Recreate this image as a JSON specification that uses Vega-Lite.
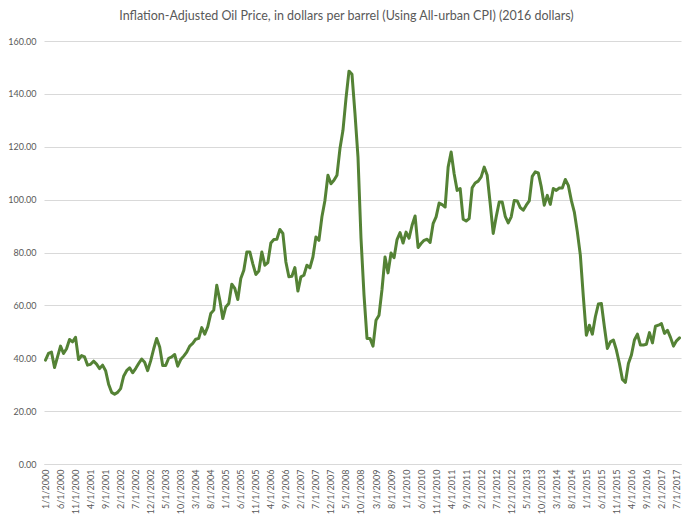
{
  "$schema": "https://vega.github.io/schema/vega-lite/v6.json",
  "width": 637,
  "height": 423,
  "autosize": "none",
  "padding": {"left": 44, "top": 41, "right": 12, "bottom": 57},
  "background": "white",
  "title": {
    "text": "Inflation-Adjusted Oil Price, in dollars per barrel (Using All-urban CPI) (2016 dollars)",
    "font": "Lato",
    "fontSize": 12.5,
    "fontWeight": "normal",
    "color": "#595959",
    "anchor": "middle",
    "dx": -16,
    "offset": 15
  },
  "config": {"view": {"stroke": null}},
  "data": {"values": [
    {"date":"1/1/2000","price":39.3},{"date":"2/1/2000","price":41.8},{"date":"3/1/2000","price":42.3},{"date":"4/1/2000","price":36.5},{"date":"5/1/2000","price":40.5},{"date":"6/1/2000","price":44.6},{"date":"7/1/2000","price":41.8},{"date":"8/1/2000","price":43.6},{"date":"9/1/2000","price":47.1},{"date":"10/1/2000","price":46.2},{"date":"11/1/2000","price":47.9},{"date":"12/1/2000","price":39.5},
    {"date":"1/1/2001","price":41.0},{"date":"2/1/2001","price":40.5},{"date":"3/1/2001","price":37.4},{"date":"4/1/2001","price":37.7},{"date":"5/1/2001","price":38.9},{"date":"6/1/2001","price":37.8},{"date":"7/1/2001","price":36.1},{"date":"8/1/2001","price":37.4},{"date":"9/1/2001","price":35.3},{"date":"10/1/2001","price":30.2},{"date":"11/1/2001","price":27.1},{"date":"12/1/2001","price":26.4},
    {"date":"1/1/2002","price":27.1},{"date":"2/1/2002","price":28.5},{"date":"3/1/2002","price":33.2},{"date":"4/1/2002","price":35.3},{"date":"5/1/2002","price":36.4},{"date":"6/1/2002","price":34.5},{"date":"7/1/2002","price":36.1},{"date":"8/1/2002","price":38.0},{"date":"9/1/2002","price":39.7},{"date":"10/1/2002","price":38.5},{"date":"11/1/2002","price":35.3},{"date":"12/1/2002","price":39.0},
    {"date":"1/1/2003","price":43.5},{"date":"2/1/2003","price":47.5},{"date":"3/1/2003","price":44.3},{"date":"4/1/2003","price":37.3},{"date":"5/1/2003","price":37.3},{"date":"6/1/2003","price":40.0},{"date":"7/1/2003","price":40.5},{"date":"8/1/2003","price":41.4},{"date":"9/1/2003","price":37.0},{"date":"10/1/2003","price":39.5},{"date":"11/1/2003","price":40.8},{"date":"12/1/2003","price":42.3},
    {"date":"1/1/2004","price":44.6},{"date":"2/1/2004","price":45.6},{"date":"3/1/2004","price":47.2},{"date":"4/1/2004","price":47.5},{"date":"5/1/2004","price":51.6},{"date":"6/1/2004","price":49.1},{"date":"7/1/2004","price":51.9},{"date":"8/1/2004","price":56.9},{"date":"9/1/2004","price":58.2},{"date":"10/1/2004","price":67.6},{"date":"11/1/2004","price":62.0},{"date":"12/1/2004","price":55.0},
    {"date":"1/1/2005","price":59.4},{"date":"2/1/2005","price":60.7},{"date":"3/1/2005","price":68.0},{"date":"4/1/2005","price":66.4},{"date":"5/1/2005","price":62.2},{"date":"6/1/2005","price":70.2},{"date":"7/1/2005","price":73.3},{"date":"8/1/2005","price":80.2},{"date":"9/1/2005","price":80.2},{"date":"10/1/2005","price":75.7},{"date":"11/1/2005","price":71.7},{"date":"12/1/2005","price":73.0},
    {"date":"1/1/2006","price":80.2},{"date":"2/1/2006","price":75.2},{"date":"3/1/2006","price":76.2},{"date":"4/1/2006","price":83.6},{"date":"5/1/2006","price":84.9},{"date":"6/1/2006","price":85.0},{"date":"7/1/2006","price":88.7},{"date":"8/1/2006","price":87.2},{"date":"9/1/2006","price":76.4},{"date":"10/1/2006","price":70.8},{"date":"11/1/2006","price":71.0},{"date":"12/1/2006","price":74.3},
    {"date":"1/1/2007","price":65.4},{"date":"2/1/2007","price":70.8},{"date":"3/1/2007","price":71.4},{"date":"4/1/2007","price":75.2},{"date":"5/1/2007","price":74.2},{"date":"6/1/2007","price":78.3},{"date":"7/1/2007","price":85.9},{"date":"8/1/2007","price":84.6},{"date":"9/1/2007","price":93.5},{"date":"10/1/2007","price":99.7},{"date":"11/1/2007","price":109.2},{"date":"12/1/2007","price":106.0},
    {"date":"1/1/2008","price":107.3},{"date":"2/1/2008","price":109.2},{"date":"3/1/2008","price":119.3},{"date":"4/1/2008","price":126.2},{"date":"5/1/2008","price":138.2},{"date":"6/1/2008","price":148.6},{"date":"7/1/2008","price":147.4},{"date":"8/1/2008","price":132.5},{"date":"9/1/2008","price":116.1},{"date":"10/1/2008","price":85.4},{"date":"11/1/2008","price":64.0},{"date":"12/1/2008","price":47.5},
    {"date":"1/1/2009","price":47.5},{"date":"2/1/2009","price":44.6},{"date":"3/1/2009","price":54.4},{"date":"4/1/2009","price":56.3},{"date":"5/1/2009","price":66.1},{"date":"6/1/2009","price":78.3},{"date":"7/1/2009","price":72.3},{"date":"8/1/2009","price":79.8},{"date":"9/1/2009","price":78.0},{"date":"10/1/2009","price":84.9},{"date":"11/1/2009","price":87.5},{"date":"12/1/2009","price":83.6},
    {"date":"1/1/2010","price":87.7},{"date":"2/1/2010","price":85.4},{"date":"3/1/2010","price":90.3},{"date":"4/1/2010","price":93.8},{"date":"5/1/2010","price":81.9},{"date":"6/1/2010","price":83.4},{"date":"7/1/2010","price":84.6},{"date":"8/1/2010","price":85.0},{"date":"9/1/2010","price":83.8},{"date":"10/1/2010","price":90.9},{"date":"11/1/2010","price":93.5},{"date":"12/1/2010","price":98.7},
    {"date":"1/1/2011","price":98.1},{"date":"2/1/2011","price":97.2},{"date":"3/1/2011","price":112.3},{"date":"4/1/2011","price":118.0},{"date":"5/1/2011","price":109.8},{"date":"6/1/2011","price":103.5},{"date":"7/1/2011","price":104.2},{"date":"8/1/2011","price":92.6},{"date":"9/1/2011","price":91.9},{"date":"10/1/2011","price":92.8},{"date":"11/1/2011","price":104.5},{"date":"12/1/2011","price":106.3},
    {"date":"1/1/2012","price":107.0},{"date":"2/1/2012","price":108.6},{"date":"3/1/2012","price":112.3},{"date":"4/1/2012","price":109.2},{"date":"5/1/2012","price":98.5},{"date":"6/1/2012","price":87.2},{"date":"7/1/2012","price":93.5},{"date":"8/1/2012","price":99.1},{"date":"9/1/2012","price":99.1},{"date":"10/1/2012","price":93.7},{"date":"11/1/2012","price":91.2},{"date":"12/1/2012","price":93.5},
    {"date":"1/1/2013","price":99.7},{"date":"2/1/2013","price":99.5},{"date":"3/1/2013","price":97.0},{"date":"4/1/2013","price":96.0},{"date":"5/1/2013","price":97.9},{"date":"6/1/2013","price":99.5},{"date":"7/1/2013","price":108.8},{"date":"8/1/2013","price":110.5},{"date":"9/1/2013","price":110.1},{"date":"10/1/2013","price":104.8},{"date":"11/1/2013","price":97.9},{"date":"12/1/2013","price":101.6},
    {"date":"1/1/2014","price":98.2},{"date":"2/1/2014","price":104.2},{"date":"3/1/2014","price":103.5},{"date":"4/1/2014","price":104.4},{"date":"5/1/2014","price":104.4},{"date":"6/1/2014","price":107.6},{"date":"7/1/2014","price":105.4},{"date":"8/1/2014","price":99.7},{"date":"9/1/2014","price":95.3},{"date":"10/1/2014","price":87.8},{"date":"11/1/2014","price":79.0},{"date":"12/1/2014","price":63.2},
    {"date":"1/1/2015","price":48.7},{"date":"2/1/2015","price":52.5},{"date":"3/1/2015","price":49.1},{"date":"4/1/2015","price":55.7},{"date":"5/1/2015","price":60.5},{"date":"6/1/2015","price":60.7},{"date":"7/1/2015","price":51.9},{"date":"8/1/2015","price":43.7},{"date":"9/1/2015","price":46.2},{"date":"10/1/2015","price":46.9},{"date":"11/1/2015","price":43.1},{"date":"12/1/2015","price":38.0},
    {"date":"1/1/2016","price":32.0},{"date":"2/1/2016","price":30.9},{"date":"3/1/2016","price":38.0},{"date":"4/1/2016","price":41.2},{"date":"5/1/2016","price":46.9},{"date":"6/1/2016","price":49.1},{"date":"7/1/2016","price":45.0},{"date":"8/1/2016","price":45.0},{"date":"9/1/2016","price":45.3},{"date":"10/1/2016","price":49.7},{"date":"11/1/2016","price":45.8},{"date":"12/1/2016","price":52.1},
    {"date":"1/1/2017","price":52.5},{"date":"2/1/2017","price":53.1},{"date":"3/1/2017","price":49.4},{"date":"4/1/2017","price":50.6},{"date":"5/1/2017","price":47.9},{"date":"6/1/2017","price":44.6},{"date":"7/1/2017","price":46.6},{"date":"8/1/2017","price":47.7}
  ]},
  "mark": {"type": "line", "color": "#548235", "strokeWidth": 3, "strokeJoin": "round", "strokeCap": "round"},
  "encoding": {
    "x": {
      "field": "date",
      "type": "ordinal",
      "sort": null,
      "scale": {"type": "point", "padding": 0.5},
      "axis": {
        "title": null,
        "values": ["1/1/2000","6/1/2000","11/1/2000","4/1/2001","9/1/2001","2/1/2002","7/1/2002","12/1/2002","5/1/2003","10/1/2003","3/1/2004","8/1/2004","1/1/2005","6/1/2005","11/1/2005","4/1/2006","9/1/2006","2/1/2007","7/1/2007","12/1/2007","5/1/2008","10/1/2008","3/1/2009","8/1/2009","1/1/2010","6/1/2010","11/1/2010","4/1/2011","9/1/2011","2/1/2012","7/1/2012","12/1/2012","5/1/2013","10/1/2013","3/1/2014","8/1/2014","1/1/2015","6/1/2015","11/1/2015","4/1/2016","9/1/2016","2/1/2017","7/1/2017"],
        "labelAngle": -90,
        "labelFont": "Lato",
        "labelFontSize": 9,
        "labelColor": "#595959",
        "labelPadding": 5,
        "ticks": false,
        "domain": true,
        "domainColor": "#d9d9d9",
        "domainWidth": 1,
        "grid": false,
        "labelOverlap": false
      }
    },
    "y": {
      "field": "price",
      "type": "quantitative",
      "scale": {"domain": [0, 160], "nice": false},
      "axis": {
        "title": null,
        "values": [0, 20, 40, 60, 80, 100, 120, 140, 160],
        "format": ".2f",
        "labelFont": "Lato",
        "labelFontSize": 9,
        "labelColor": "#595959",
        "labelPadding": 8,
        "ticks": false,
        "domain": false,
        "grid": true,
        "gridColor": "#d9d9d9",
        "gridWidth": 1
      }
    }
  }
}
